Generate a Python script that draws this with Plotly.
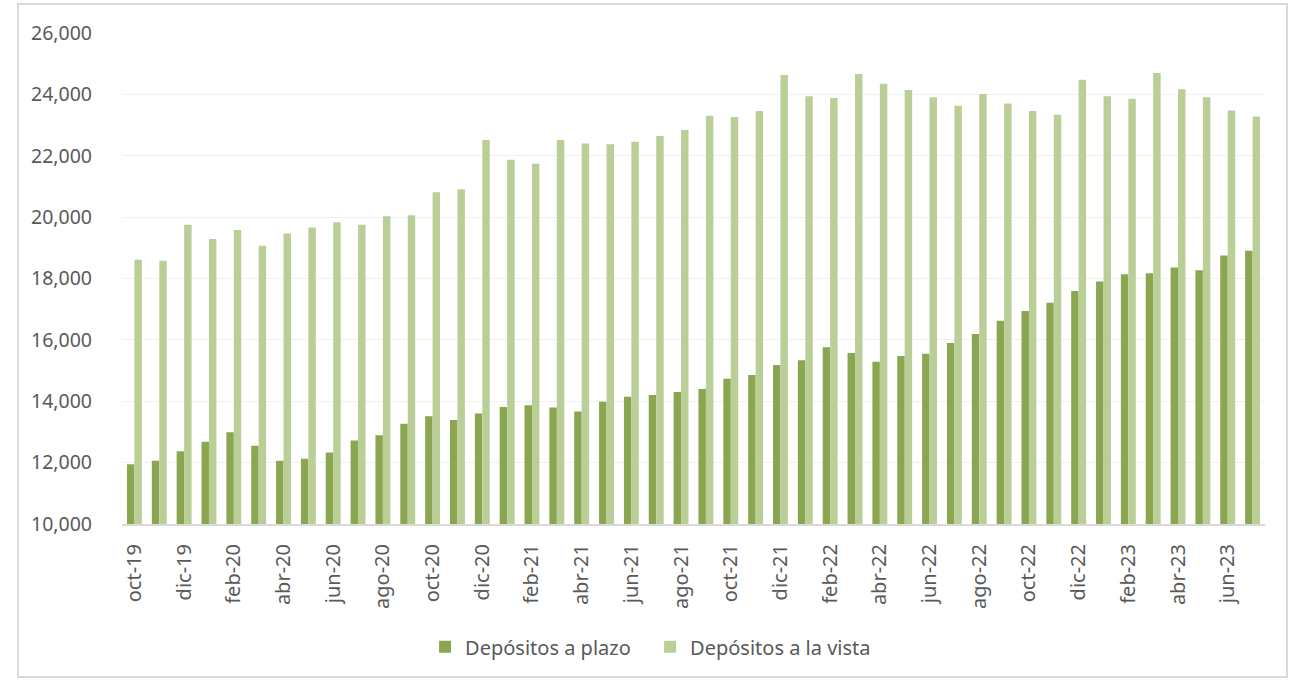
import plotly.graph_objects as go

# Monthly series, Oct 2019 - Jul 2023
meses = [
    "oct-19", "nov-19", "dic-19",
    "ene-20", "feb-20", "mar-20", "abr-20", "may-20", "jun-20",
    "jul-20", "ago-20", "sep-20", "oct-20", "nov-20", "dic-20",
    "ene-21", "feb-21", "mar-21", "abr-21", "may-21", "jun-21",
    "jul-21", "ago-21", "sep-21", "oct-21", "nov-21", "dic-21",
    "ene-22", "feb-22", "mar-22", "abr-22", "may-22", "jun-22",
    "jul-22", "ago-22", "sep-22", "oct-22", "nov-22", "dic-22",
    "ene-23", "feb-23", "mar-23", "abr-23", "may-23", "jun-23",
    "jul-23",
]

depositos_plazo = [
    11950, 12060, 12370,
    12680, 12990, 12550, 12060, 12130, 12330,
    12720, 12890, 13270, 13510, 13390, 13600,
    13810, 13870, 13800, 13670, 13980, 14150,
    14205, 14300, 14400, 14730, 14855, 15180,
    15335, 15760, 15575, 15290, 15475, 15545,
    15900, 16195, 16620, 16940, 17210, 17590,
    17900, 18140, 18170, 18355, 18270, 18750,
    18905,
]

depositos_vista = [
    18610, 18580, 19750,
    19285, 19580, 19070, 19470, 19665, 19835,
    19750, 20030, 20060, 20810, 20910, 22515,
    21870, 21740, 22515, 22400, 22375, 22460,
    22640, 22840, 23305, 23265, 23460, 24630,
    23940, 23885, 24660, 24350, 24140, 23910,
    23630, 24010, 23700, 23460, 23335, 24475,
    23940, 23855, 24700, 24165, 23910, 23475,
    23280,
]

etiquetas_x = meses[::2]

color_plazo = "#8BA650"
color_vista = "#B9CF97"
texto = "#595959"

fig = go.Figure()
fig.add_trace(go.Bar(
    x=meses, y=depositos_plazo, name="Depósitos a plazo",
    marker=dict(color=color_plazo, line=dict(width=0)),
))
fig.add_trace(go.Bar(
    x=meses, y=depositos_vista, name="Depósitos a la vista",
    marker=dict(color=color_vista, line=dict(width=0)),
))

fig.update_layout(
    width=1294, height=680,
    margin=dict(l=122, r=29, t=33, b=156),
    paper_bgcolor="white", plot_bgcolor="white",
    barmode="group", bargap=0.4, bargroupgap=0,
    font=dict(family="Noto Sans", color=texto, size=16),
    showlegend=True,
    legend=dict(
        orientation="h", x=0.462, xanchor="center", y=-0.25, yanchor="middle",
        font=dict(size=20, color=texto), itemwidth=30, traceorder="normal",
        entrywidth=180, entrywidthmode="pixels",
    ),
    xaxis=dict(
        type="category", tickmode="array", tickvals=etiquetas_x, ticktext=etiquetas_x,
        tickangle=-90, showgrid=False, showline=True, linecolor="#D9D9D9", linewidth=2,
        ticks="", ticklabelstandoff=10,
        tickfont=dict(family="Noto Sans", size=20, color=texto),
    ),
    yaxis=dict(
        range=[10000, 26000], dtick=2000, tickformat=",", showgrid=True,
        gridcolor="#F0F0F0", gridwidth=1, zeroline=False, showline=False,
        ticks="", ticklabelstandoff=29, tickfont=dict(size=19.5, color=texto),
    ),
    shapes=[dict(
        type="rect", xref="paper", yref="paper",
        x0=-104 / 1143, x1=1165 / 1143, y0=-153 / 491, y1=520 / 491,
        line=dict(color="#D9D9D9", width=2), fillcolor="rgba(0,0,0,0)", layer="below",
    )],
)

fig.write_html("out.html")
